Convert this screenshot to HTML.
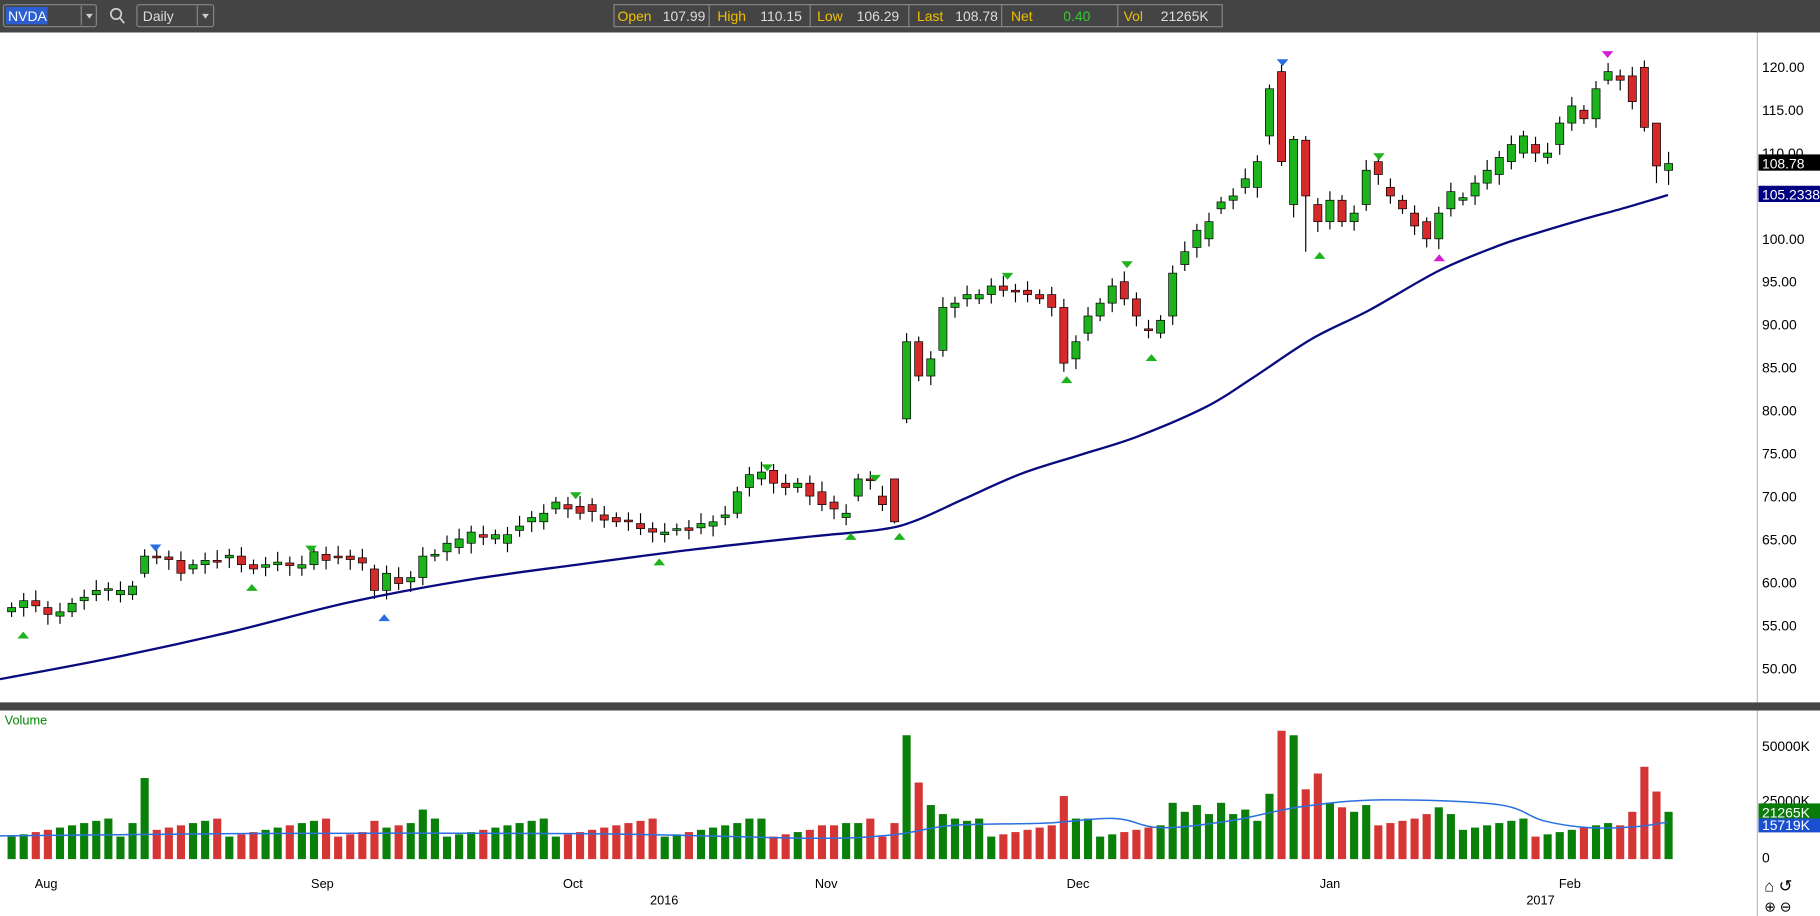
<!DOCTYPE html>
<html><head><meta charset="utf-8"><style>
html,body{margin:0;padding:0;background:#fff;overflow:hidden}
svg{display:block;font-family:"Liberation Sans",sans-serif}
</style></head><body>
<svg id="s" width="1820" height="916" viewBox="0 0 1568 789" preserveAspectRatio="none" xmlns="http://www.w3.org/2000/svg">
<rect x="0" y="0" width="1568" height="28" fill="#444"/>
<rect x="3" y="4" width="80" height="19" rx="2" fill="none" stroke="#888"/>
<rect x="5" y="6" width="36" height="15" fill="#2d5fd0"/>
<text x="7" y="18" font-size="12" fill="#fff">NVDA</text>
<line x1="70" y1="5" x2="70" y2="22" stroke="#888"/>
<path d="M74 12 L80 12 L77 16Z" fill="#ccc"/>
<circle cx="100" cy="12" r="4.5" fill="none" stroke="#ccc" stroke-width="1.5"/><line x1="103" y1="15" x2="107" y2="20" stroke="#ccc" stroke-width="1.5"/>
<rect x="118" y="4" width="66" height="19" rx="2" fill="none" stroke="#888"/>
<text x="123" y="18" font-size="12" fill="#ddd">Daily</text>
<line x1="170" y1="5" x2="170" y2="22" stroke="#888"/>
<path d="M174 12 L180 12 L177 16Z" fill="#ccc"/>
<rect x="529" y="4" width="524" height="19" fill="none" stroke="#888"/>
<g font-size="12">
<text x="532" y="18" fill="#f0c000">Open</text><text x="571" y="18" fill="#ddd">107.99</text>
<line x1="611" y1="4" x2="611" y2="23" stroke="#888"/>
<text x="618" y="18" fill="#f0c000">High</text><text x="655" y="18" fill="#ddd">110.15</text>
<line x1="698" y1="4" x2="698" y2="23" stroke="#888"/>
<text x="704" y="18" fill="#f0c000">Low</text><text x="738" y="18" fill="#ddd">106.29</text>
<line x1="783" y1="4" x2="783" y2="23" stroke="#888"/>
<text x="790" y="18" fill="#f0c000">Last</text><text x="823" y="18" fill="#ddd">108.78</text>
<line x1="863" y1="4" x2="863" y2="23" stroke="#888"/>
<text x="871" y="18" fill="#f0c000">Net</text><text x="916" y="18" fill="#3c3">0.40</text>
<line x1="963" y1="4" x2="963" y2="23" stroke="#888"/>
<text x="968" y="18" fill="#f0c000">Vol</text><text x="1000" y="18" fill="#ddd">21265K</text>
</g>
<line x1="1514" y1="28" x2="1514" y2="789" stroke="#bbb"/>
<rect x="0" y="605" width="1568" height="7" fill="#444"/>
<g id="g"></g>
<g font-size="12" fill="#000">
<text x="1518" y="62">120.00</text><text x="1518" y="99">115.00</text><text x="1518" y="136">110.00</text>
<text x="1518" y="210">100.00</text><text x="1518" y="247">95.00</text><text x="1518" y="284">90.00</text>
<text x="1518" y="321">85.00</text><text x="1518" y="358">80.00</text><text x="1518" y="395">75.00</text>
<text x="1518" y="432">70.00</text><text x="1518" y="469">65.00</text><text x="1518" y="506">60.00</text>
<text x="1518" y="543">55.00</text><text x="1518" y="580">50.00</text>
<text x="1518" y="647">50000K</text><text x="1518" y="694">25000K</text><text x="1518" y="743">0</text>
</g>
<rect x="1515" y="133" width="53" height="14" fill="#000"/><text x="1518" y="145" font-size="12" fill="#fff">108.78</text>
<rect x="1515" y="160" width="53" height="14" fill="#000080"/><text x="1518" y="172" font-size="12" fill="#fff">105.2338</text>
<rect x="1515" y="692" width="53" height="14" fill="#0a7a0a"/><text x="1518" y="704" font-size="12" fill="#fff">21265K</text>
<rect x="1515" y="705" width="53" height="12" fill="#1a4fd0"/><text x="1518" y="715" font-size="12" fill="#fff">15719K</text>
<text x="4" y="624" font-size="11" fill="#080">Volume</text>
<g font-size="11" fill="#000">
<text x="30" y="765">Aug</text><text x="268" y="765">Sep</text><text x="485" y="765">Oct</text><text x="702" y="765">Nov</text>
<text x="919" y="765">Dec</text><text x="1137" y="765">Jan</text><text x="1343" y="765">Feb</text>
<text x="560" y="779">2016</text><text x="1315" y="779">2017</text>
</g>
<text x="1520" y="768" font-size="14" fill="#000">⌂ ↺</text>
<text x="1520" y="785" font-size="12" fill="#000">⊕ ⊖</text>
</svg>
<script>
var C=[[56.5,57],[57,57.8],[57.8,57.2],[57,56.2],[56,56.5],[56.5,57.5],[57.8,58.2],[58.5,59],[59,59.2],[58.5,59],[58.5,59.5],[61,63],[63,62.8],[62.9,62.6],[62.5,61],[61.5,62],[62,62.5],[62.5,62.3],[62.8,63.1],[63,62],[62,61.5],[61.7,62],[62,62.3],[62.2,61.9],[61.6,62],[62,63.5],[63.2,62.5],[63,62.8],[63,62.6],[62.8,62.2],[61.5,59],[59,61],[60.5,59.8],[60,60.5],[60.5,63],[63,63.2],[63.5,64.5],[64,65],[64.5,65.8],[65.5,65.2],[65,65.5],[64.5,65.5],[66,66.5],[67,67.5],[67,68],[68.5,69.3],[69,68.5],[68.8,68],[69,68.2],[67.8,67.2],[67.5,67],[67.2,67],[66.8,66.2],[66.2,65.8],[65.5,65.8],[66,66.2],[66.3,66],[66.3,66.8],[66.5,67],[67.5,67.8],[68,70.5],[71,72.5],[72,72.8],[73,71.5],[71.5,71],[71,71.5],[71.5,70],[70.5,69],[69.3,68.5],[67.5,68],[70,72],[72,71.8],[70,69],[72,67],[79,88],[88,84],[84,86],[87,92],[92,92.5],[93,93.5],[93,93.5],[93.5,94.5],[94.5,94],[94,93.8],[94,93.5],[93.5,93],[93.5,92],[92,85.5],[86,88],[89,91],[91,92.5],[92.5,94.5],[95,93],[93,91],[89.5,89.3],[89,90.5],[91,96],[97,98.5],[99,101],[100,102],[103.5,104.3],[104.5,105],[106,107],[106,109],[112,117.5],[119.5,109],[104,111.6],[111.5,105],[104,102],[102,104.5],[104.5,102],[102,103],[104,108],[109,107.5],[106,105],[104.5,103.5],[103,101.5],[102,100],[100,103],[103.5,105.5],[104.5,104.8],[105,106.5],[106.5,108],[107.5,109.5],[109,111],[110,112],[111,110],[109.5,110],[111,113.5],[113.5,115.5],[115,114],[114,117.5],[118.5,119.5],[119,118.5],[119,116],[120,113],[113.5,108.5],[107.99,108.78]];
var V={10:16,11:36,30:17,31:14,34:22,60:16,61:18,67:15,70:16,73:16,74:55,75:34,76:24,77:20,78:18,87:28,88:18,96:25,97:21,98:24,99:20,100:25,101:20,102:22,103:17,104:29,105:57,106:55,107:31,108:38,109:25,110:23,111:21,112:24,116:18,117:20,118:23,119:20,133:15,134:21,135:41,136:30,137:21};
var s='',sp=10.42,Y=function(p){return 58+(120-p)*7.386};
var HL={11:[63.8,60.5],73:[72,66.8],74:[89,78.5],87:[93,84.5],104:[118,111],105:[120.3,108.5],106:[112,102.5],107:[112,98.5],117:[102.5,99],132:[120.5,118],135:[120.8,112.5],136:[113.5,106.5],137:[110.15,106.29],30:[62,58]};
for(var i=0;i<C.length;i++){var o=C[i][0],c=C[i][1],x=10+i*sp,g=c>=o,col=g?'#1db31d':'#d62a2a';
var h=HL[i]?HL[i][0]:Math.max(o,c)+0.6+((i*7)%5)*0.15,l=HL[i]?HL[i][1]:Math.min(o,c)-0.6-((i*3)%5)*0.15;
s+='<line x1="'+x+'" y1="'+Y(h)+'" x2="'+x+'" y2="'+Y(l)+'" stroke="#000"/>';
var t=Y(Math.max(o,c)),b=Y(Math.min(o,c));if(b-t<1.5)b=t+1.5;
s+='<rect x="'+(x-3.5)+'" y="'+t+'" width="7" height="'+(b-t)+'" fill="'+col+'" stroke="#000" stroke-width="0.6"/>';
var v=V[i]||(10+((i*37)%9));var vh=v*1.94;
s+='<rect x="'+(x-3.5)+'" y="'+(740-vh)+'" width="7" height="'+vh+'" fill="'+(g?'#0a800a':'#d63535')+'"/>';}
var P=[[0,585],[100,566],[200,544],[300,519],[400,500],[500,486],[600,473],[700,462],[760,456],[790,448],[830,430],[880,408],[930,392],[980,376],[1040,350],[1080,325],[1130,292],[1180,267],[1240,233],[1290,212],[1320,202],[1360,190],[1400,179],[1437,168]];
function smooth(P){var d='M'+P[0][0]+' '+P[0][1];for(var i=0;i<P.length-1;i++){var p0=P[i-1]||P[i],p1=P[i],p2=P[i+1],p3=P[i+2]||p2;
d+=' C'+(p1[0]+(p2[0]-p0[0])/6)+' '+(p1[1]+(p2[1]-p0[1])/6)+' '+(p2[0]-(p3[0]-p1[0])/6)+' '+(p2[1]-(p3[1]-p1[1])/6)+' '+p2[0]+' '+p2[1];}return d;}
s+='<path d="'+smooth(P)+'" fill="none" stroke="#0a0a80" stroke-width="2"/>';
var Q=[[0,720],[200,718],[500,718],[700,722],[770,719],[820,711],[900,709],[960,705],[1000,713],[1060,707],[1120,695],[1190,689],[1290,693],[1330,707],[1370,713],[1410,712],[1437,708]];
s+='<path d="'+smooth(Q)+'" fill="none" stroke="#2a6fe0" stroke-width="1.3"/>';
var tri=[[20,'#1db31d',1],[134,'#2a6fe0',0],[217,'#1db31d',1],[268,'#1db31d',0],[331,'#2a6fe0',1],[496,'#1db31d',0],[568,'#1db31d',1],[661,'#1db31d',0],[754,'#1db31d',0],[733,'#1db31d',1],[775,'#1db31d',1],[868,'#1db31d',0],[919,'#1db31d',1],[971,'#1db31d',0],[992,'#1db31d',1],[1105,'#2a6fe0',0],[1137,'#1db31d',1],[1188,'#1db31d',0],[1240,'#d020d0',1],[1385,'#d020d0',0]];
var ty={20:544,134:469,217:503,268:470,331:529,496:424,568:481,661:400,754:409,733:459,775:459,868:235,919:324,971:225,992:305,1105:51,1137:217,1188:132,1240:219,1385:44};
tri.forEach(function(t){var x=t[0],y=ty[x];s+=t[2]?'<path d="M'+(x-5)+' '+(y+6)+' L'+(x+5)+' '+(y+6)+' L'+x+' '+y+'Z" fill="'+t[1]+'"/>':'<path d="M'+(x-5)+' '+y+' L'+(x+5)+' '+y+' L'+x+' '+(y+6)+'Z" fill="'+t[1]+'"/>';});
document.getElementById('g').innerHTML=s;
</script>
</body></html>
